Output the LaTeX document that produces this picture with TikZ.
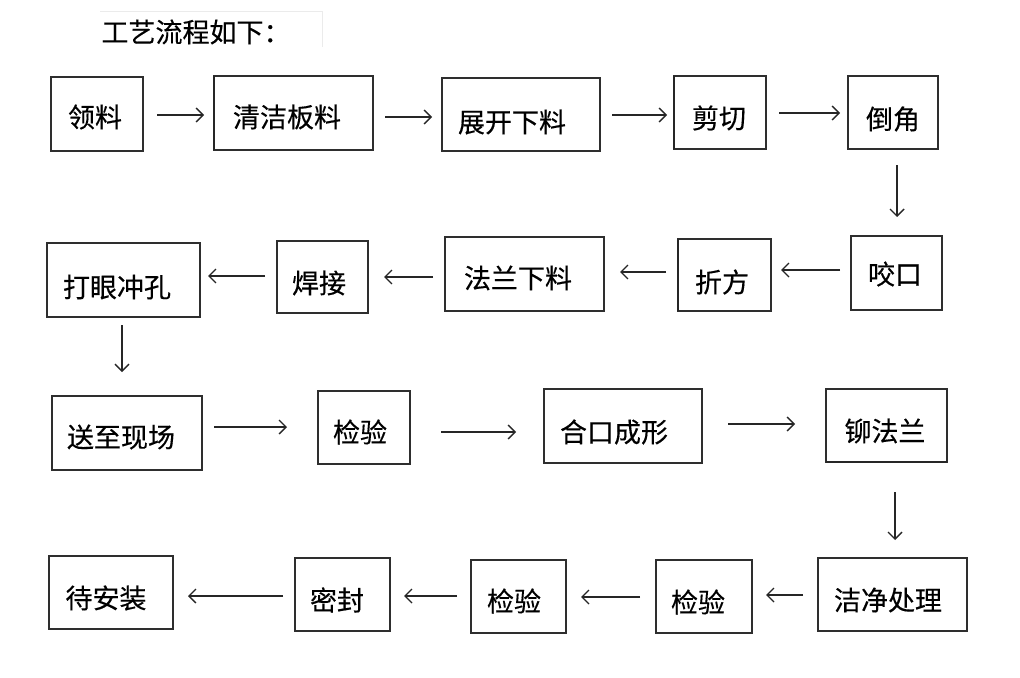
\documentclass[tikz,border=0pt]{standalone}
\usepackage{fontspec}
\newfontfamily\cjk[FakeBold=0.35]{Noto Sans CJK SC}
\usetikzlibrary{arrows.meta}
\begin{document}
\begin{tikzpicture}[x=1bp,y=-1bp,
  box/.style={draw=black!82, line width=1.2bp, inner sep=0, outer sep=0, rectangle},
  txt/.style={font=\cjk\fontsize{27bp}{31bp}\selectfont, inner sep=0, text=black},
  arr/.style={draw=black!85, line width=1.4bp, -{Straight Barb[length=7bp,width=14bp]}},
  thick edge/.style={draw=black!85, line width=2.6bp}]
\useasboundingbox[fill=white] (0,0) rectangle (1020,678);

% title with faint frame
\draw[black!8, line width=1bp] (100,12) -- (322,12) -- (322,47);
\node[txt] (title) at (196,32) {工艺流程如下：};

% row 1
\node[box, minimum width=92bp,  minimum height=74bp] (b1)  at (97,114) {};
\node[box, minimum width=159bp, minimum height=74bp] (b2)  at (293.5,113) {};
\node[box, minimum width=158bp, minimum height=73bp] (b3)  at (521,114.5) {};
\node[box, minimum width=92bp,  minimum height=73bp] (b4)  at (720,112.5) {};
\node[box, minimum width=90bp,  minimum height=73bp] (b5)  at (893,112.5) {};
% row 2
\node[box, minimum width=91bp,  minimum height=74bp] (b6)  at (896.5,273) {};
\node[box, minimum width=93bp,  minimum height=72bp] (b7)  at (724.5,275) {};
\node[box, minimum width=159bp, minimum height=74bp] (b8)  at (524.5,274) {};
\node[box, minimum width=91bp,  minimum height=72bp] (b9)  at (322.5,277) {};
\node[box, minimum width=153bp, minimum height=74bp] (b10) at (123.5,280) {};
% row 3
\node[box, minimum width=150bp, minimum height=74bp] (b11) at (127,433) {};
\node[box, minimum width=92bp,  minimum height=73bp] (b12) at (364,427.5) {};
\node[box, minimum width=158bp, minimum height=74bp] (b13) at (623,426) {};
\node[box, minimum width=121bp, minimum height=73bp] (b14) at (886.5,425.5) {};
% row 4
\node[box, minimum width=149bp, minimum height=73bp] (b15) at (892.5,594.5) {};
\node[box, minimum width=96bp,  minimum height=73bp] (b16) at (704,596.5) {};
\node[box, minimum width=95bp,  minimum height=73bp] (b17) at (518.5,596.5) {};
\node[box, minimum width=95bp,  minimum height=73bp] (b18) at (342.5,594.5) {};
\node[box, minimum width=124bp, minimum height=73bp] (b19) at (111,592.5) {};

% thicker edges
\draw[thick edge] (b2.north west) -- (b2.south west);
\draw[thick edge] (b4.north west) -- (b4.south west);
\draw[thick edge] (b7.north west) -- (b7.south west);
\draw[thick edge] (b14.south west) -- (b14.south east);

% texts
\node[txt] (t1)  at (95,117)  {领料};
\node[txt] (t2)  at (287,117) {清洁板料};
\node[txt] (t3)  at (512,122) {展开下料};
\node[txt] (t4)  at (719,118) {剪切};
\node[txt] (t5)  at (893,119) {倒角};
\node[txt] (t6)  at (895,274) {咬口};
\node[txt] (t7)  at (722,282) {折方};
\node[txt] (t8)  at (518,278) {法兰下料};
\node[txt] (t9)  at (319,283) {焊接};
\node[txt] (t10) at (117,287) {打眼冲孔};
\node[txt] (t11) at (121,437) {送至现场};
\node[txt] (t12) at (360,432) {检验};
\node[txt] (t13) at (614,432) {合口成形};
\node[txt] (t14) at (885,431) {铆法兰};
\node[txt] (t15) at (888,600) {洁净处理};
\node[txt] (t16) at (698,602) {检验};
\node[txt] (t17) at (514,601) {检验};
\node[txt] (t18) at (337,600) {密封};
\node[txt] (t19) at (106,598) {待安装};

% arrows row 1
\draw[arr] ([xshift=14bp,yshift=-1bp]b1.east) -- ([xshift=-10bp,yshift=-1bp]b1.east -| b2.west);
\draw[arr] ([xshift=12bp,yshift=-4bp]b2.east) -- ([xshift=-10bp,yshift=-4bp]b2.east -| b3.west);
\draw[arr] ([xshift=12bp,yshift=-0.5bp]b3.east) -- ([xshift=-7bp,yshift=-0.5bp]b3.east -| b4.west);
\draw[arr] ([xshift=13bp,yshift=-0.5bp]b4.east) -- ([xshift=-8bp,yshift=-0.5bp]b4.east -| b5.west);
\draw[arr] ([xshift=4bp,yshift=-16bp]b5.south) -- ([xshift=4bp,yshift=19bp]b5.south |- b6.north);
% arrows row 2
\draw[arr] ([xshift=-11bp,yshift=3bp]b6.west) -- ([xshift=10bp,yshift=3bp]b6.west -| b7.east);
\draw[arr] ([xshift=-12bp,yshift=3bp]b7.west) -- ([xshift=16bp,yshift=3bp]b7.west -| b8.east);
\draw[arr] ([xshift=-12bp,yshift=-3bp]b8.west) -- ([xshift=16bp,yshift=-3bp]b8.west -| b9.east);
\draw[arr] ([xshift=-12bp,yshift=1bp]b9.west) -- ([xshift=8bp,yshift=1bp]b9.west -| b10.east);
\draw[arr] ([xshift=-1.5bp,yshift=-8bp]b10.south) -- ([xshift=-1.5bp,yshift=24bp]b10.south |- b11.north);
% arrows row 3
\draw[arr] ([xshift=12bp,yshift=6bp]b11.east) -- ([xshift=-31bp,yshift=6bp]b11.east -| b12.west);
\draw[arr] ([xshift=31bp,yshift=-4.5bp]b12.east) -- ([xshift=-28bp,yshift=-4.5bp]b12.east -| b13.west);
\draw[arr] ([xshift=26bp,yshift=2bp]b13.east) -- ([xshift=-31bp,yshift=2bp]b13.east -| b14.west);
\draw[arr] ([xshift=8.5bp,yshift=-30bp]b14.south) -- ([xshift=8.5bp,yshift=18bp]b14.south |- b15.north);
% arrows row 4
\draw[arr] ([xshift=-15bp,yshift=-0.5bp]b15.west) -- ([xshift=14bp,yshift=-0.5bp]b15.west -| b16.east);
\draw[arr] ([xshift=-16bp,yshift=-0.5bp]b16.west) -- ([xshift=15bp,yshift=-0.5bp]b16.west -| b17.east);
\draw[arr] ([xshift=-14bp,yshift=0.5bp]b17.west) -- ([xshift=14bp,yshift=0.5bp]b17.west -| b18.east);
\draw[arr] ([xshift=-12bp,yshift=-1.5bp]b18.west) -- ([xshift=15bp,yshift=-1.5bp]b18.west -| b19.east);
\end{tikzpicture}
\end{document}
